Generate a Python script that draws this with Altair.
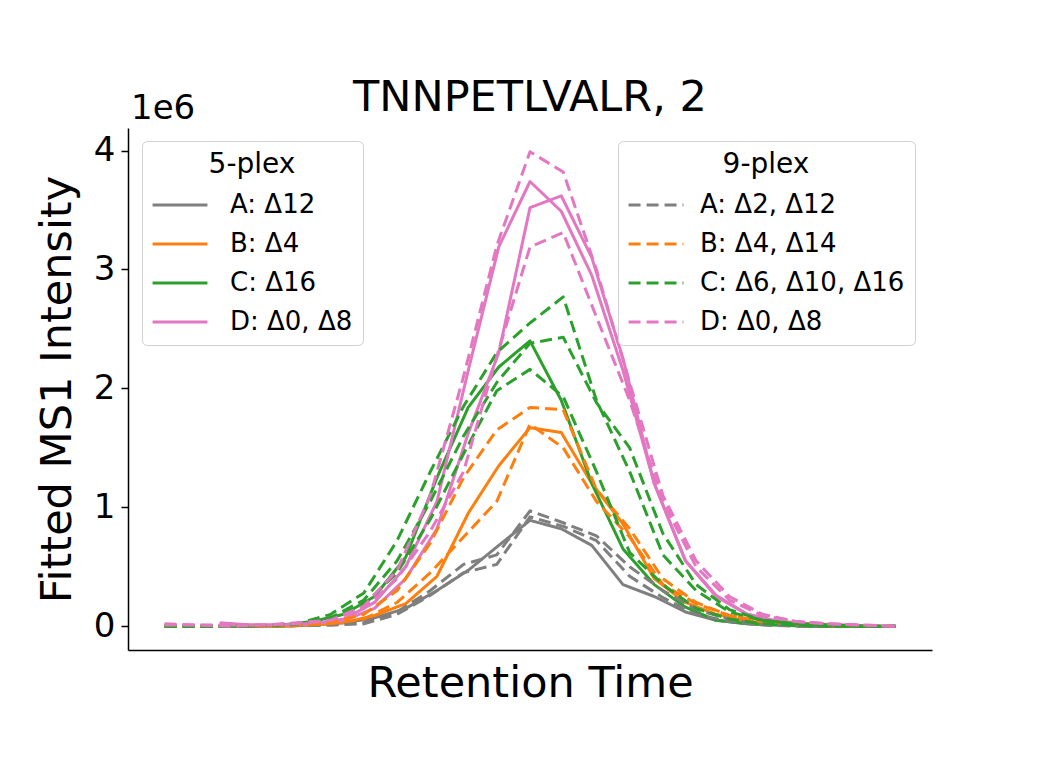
import altair as alt
import pandas as pd

# ---- data (intensity in units of 1e6) ----
rt_5plex = [30.083, 30.130, 30.176, 30.223, 30.270, 30.316, 30.363, 30.410, 30.457, 30.503,
            30.550, 30.597, 30.643, 30.690, 30.737, 30.784, 30.830, 30.877, 30.924, 30.970,
            31.017, 31.064]
rt_9plex = [30.00, 30.05, 30.10, 30.15, 30.20, 30.25, 30.30, 30.35, 30.40, 30.45, 30.50, 30.55,
            30.60, 30.65, 30.70, 30.75, 30.80, 30.85, 30.90, 30.95, 31.00, 31.05, 31.10]

# 5-plex (solid)
p5_A_d12 = [0, 0, 0, 0.01, 0.03, 0.07, 0.15, 0.30, 0.47, 0.68, 0.89, 0.82, 0.68, 0.35, 0.25, 0.12, 0.05, 0.02, 0.01, 0, 0, 0]
p5_B_d4 = [0, 0, 0, 0.01, 0.03, 0.09, 0.19, 0.42, 0.95, 1.35, 1.67, 1.63, 1.20, 0.86, 0.40, 0.20, 0.10, 0.04, 0.02, 0.01, 0, 0]
p5_C_d16 = [0, 0, 0.01, 0.04, 0.10, 0.25, 0.58, 1.25, 1.84, 2.18, 2.40, 1.90, 1.20, 0.65, 0.35, 0.16, 0.05, 0.02, 0.01, 0, 0, 0]
p5_D_d0 = [0.03, 0.01, 0.01, 0.02, 0.06, 0.20, 0.50, 1.05, 2.15, 3.19, 3.74, 3.49, 2.95, 2.15, 1.20, 0.55, 0.26, 0.10, 0.04, 0.02, 0.01, 0]
p5_D_d8 = [0.01, 0.01, 0.01, 0.02, 0.05, 0.15, 0.40, 0.82, 1.62, 2.30, 3.52, 3.62, 3.10, 2.25, 1.20, 0.55, 0.25, 0.10, 0.04, 0.02, 0.01, 0]

# 9-plex (dashed)
p9_A_d2 = [0, 0, 0, 0, 0.005, 0.01, 0.03, 0.12, 0.30, 0.52, 0.60, 0.97, 0.87, 0.76, 0.50, 0.30, 0.14, 0.06, 0.02, 0.01, 0, 0, 0]
p9_A_d12 = [0, 0, 0, 0, 0.005, 0.01, 0.02, 0.10, 0.26, 0.45, 0.52, 0.92, 0.84, 0.72, 0.42, 0.24, 0.10, 0.04, 0.01, 0, 0, 0, 0]
p9_B_d4 = [0, 0, 0, 0, 0.01, 0.03, 0.10, 0.30, 0.70, 1.25, 1.65, 1.84, 1.82, 1.15, 0.82, 0.40, 0.20, 0.09, 0.04, 0.02, 0.01, 0, 0]
p9_B_d14 = [0, 0, 0, 0, 0.01, 0.02, 0.06, 0.20, 0.45, 0.75, 1.05, 1.70, 1.50, 1.05, 0.75, 0.35, 0.19, 0.09, 0.04, 0.02, 0.01, 0, 0]
p9_C_d6 = [0, 0, 0, 0.005, 0.02, 0.10, 0.28, 0.72, 1.30, 1.85, 2.30, 2.55, 2.77, 1.90, 1.30, 0.60, 0.30, 0.12, 0.05, 0.02, 0.01, 0, 0]
p9_C_d10 = [0, 0, 0, 0.005, 0.02, 0.07, 0.22, 0.55, 1.05, 1.60, 2.05, 2.38, 2.43, 1.88, 1.50, 0.78, 0.35, 0.14, 0.05, 0.02, 0.01, 0, 0]
p9_C_d16 = [0, 0, 0, 0.005, 0.02, 0.06, 0.18, 0.45, 0.90, 1.45, 1.98, 2.16, 1.93, 1.30, 0.62, 0.35, 0.15, 0.06, 0.02, 0.01, 0, 0, 0]
p9_D_d0 = [0.02, 0.01, 0.01, 0.01, 0.03, 0.05, 0.17, 0.47, 1.10, 2.10, 3.20, 3.99, 3.82, 3.00, 2.05, 1.10, 0.55, 0.25, 0.10, 0.04, 0.02, 0.01, 0]
p9_D_d8 = [0.01, 0.01, 0, 0.01, 0.02, 0.05, 0.15, 0.40, 0.80, 1.30, 2.27, 3.19, 3.31, 2.60, 1.90, 1.05, 0.50, 0.22, 0.09, 0.04, 0.02, 0.01, 0]

labels_5plex = ["A: Δ12", "B: Δ4", "C: Δ16", "D: Δ0, Δ8"]
labels_9plex = ["A: Δ2, Δ12", "B: Δ4, Δ14", "C: Δ6, Δ10, Δ16", "D: Δ0, Δ8"]
colors = ["#7f7f7f", "#ff7f0e", "#2ca02c", "#e377c2"]

series5 = [("5A12", labels_5plex[0], p5_A_d12), ("5B4", labels_5plex[1], p5_B_d4),
           ("5C16", labels_5plex[2], p5_C_d16), ("5D0", labels_5plex[3], p5_D_d0),
           ("5D8", labels_5plex[3], p5_D_d8)]
series9 = [("9A2", labels_9plex[0], p9_A_d2), ("9A12", labels_9plex[0], p9_A_d12),
           ("9B4", labels_9plex[1], p9_B_d4), ("9B14", labels_9plex[1], p9_B_d14),
           ("9C6", labels_9plex[2], p9_C_d6), ("9C10", labels_9plex[2], p9_C_d10),
           ("9C16", labels_9plex[2], p9_C_d16), ("9D0", labels_9plex[3], p9_D_d0),
           ("9D8", labels_9plex[3], p9_D_d8)]

rows5 = []
for sid, lab, vals in series5:
    for t, v in zip(rt_5plex, vals):
        rows5.append({"series": sid, "label5": lab, "rt": t, "intensity": v})
rows9 = []
for sid, lab, vals in series9:
    for t, v in zip(rt_9plex, vals):
        rows9.append({"series": sid, "label9": lab, "rt": t, "intensity": v})
df5 = pd.DataFrame(rows5)
df9 = pd.DataFrame(rows9)

FONT = "DejaVu Sans"
span = rt_9plex[-1] - rt_9plex[0]
xdom = [rt_9plex[0] - 0.05 * span, rt_9plex[-1] + 0.05 * span]
ydom = [-0.2, 4.19]

xenc = alt.X("rt:Q", scale=alt.Scale(domain=xdom, nice=False, zero=False),
             axis=alt.Axis(title="Retention Time", labels=False, ticks=False, grid=False,
                           domainColor="black", domainWidth=1.5, titleFontSize=43,
                           titleFont=FONT, titleFontWeight="normal", titleColor="black",
                           titlePadding=12))
yenc = alt.Y("intensity:Q", scale=alt.Scale(domain=ydom, nice=False, zero=False),
             axis=alt.Axis(title="Fitted MS1 Intensity", values=[0, 1, 2, 3, 4], format="d",
                           grid=False, domainColor="black", domainWidth=1.5, tickColor="black",
                           tickWidth=1.5, tickSize=7, labelFontSize=34, labelFont=FONT,
                           labelColor="black", labelPadding=6, titleFontSize=43, titleFont=FONT,
                           titleFontWeight="normal", titleColor="black", titlePadding=14))

SYMBOL = "M-1.12,0H1.12"
legend_common = dict(orient="none", symbolStrokeWidth=3, symbolType=SYMBOL, symbolSize=2401,
                     symbolOffset=2,
                     labelFontSize=26, titleFontSize=28, titleFontWeight="normal",
                     titleAnchor="middle", padding=10, strokeColor="#d0d0d0", fillColor="white",
                     cornerRadius=5, rowPadding=0, labelFont=FONT, titleFont=FONT,
                     labelColor="black", titleColor="black", titlePadding=0, labelLimit=500)

solid = alt.Chart(df5).mark_line(strokeWidth=3, strokeJoin="round").encode(
    x=xenc, y=yenc,
    color=alt.Color("label5:N", scale=alt.Scale(domain=labels_5plex, range=colors),
                    legend=alt.Legend(title="5-plex", legendX=14, legendY=13, labelOffset=24,
                                      **legend_common)),
    detail="series:N",
)
dashed = alt.Chart(df9).mark_line(strokeWidth=3, strokeDash=[12, 6], strokeJoin="round").encode(
    x=xenc, y=yenc,
    color=alt.Color("label9:N", scale=alt.Scale(domain=labels_9plex, range=colors),
                    legend=alt.Legend(title="9-plex", legendX=490, legendY=13, labelOffset=18,
                                      symbolDash=[12, 6], **legend_common)),
    detail="series:N",
)
offset_text = alt.Chart(pd.DataFrame({"t": ["1e6"]})).mark_text(
    align="left", baseline="alphabetic", fontSize=34, font=FONT, color="black"
).encode(x=alt.value(3), y=alt.value(-9), text="t:N")

chart = alt.layer(solid, dashed, offset_text).resolve_scale(color="independent").properties(
    width=804, height=522,
    background="white",
    title=alt.TitleParams("TNNPETLVALR, 2", fontSize=43, font=FONT, fontWeight="normal",
                          anchor="middle", frame="group", offset=-28, color="black"),
    autosize=alt.AutoSizeParams(type="none"),
    padding={"left": 120, "top": 120, "right": 100, "bottom": 100},
).configure_view(strokeWidth=0, stroke="transparent")

chart.save("out.html", embed_options={"renderer": "svg", "actions": False})
